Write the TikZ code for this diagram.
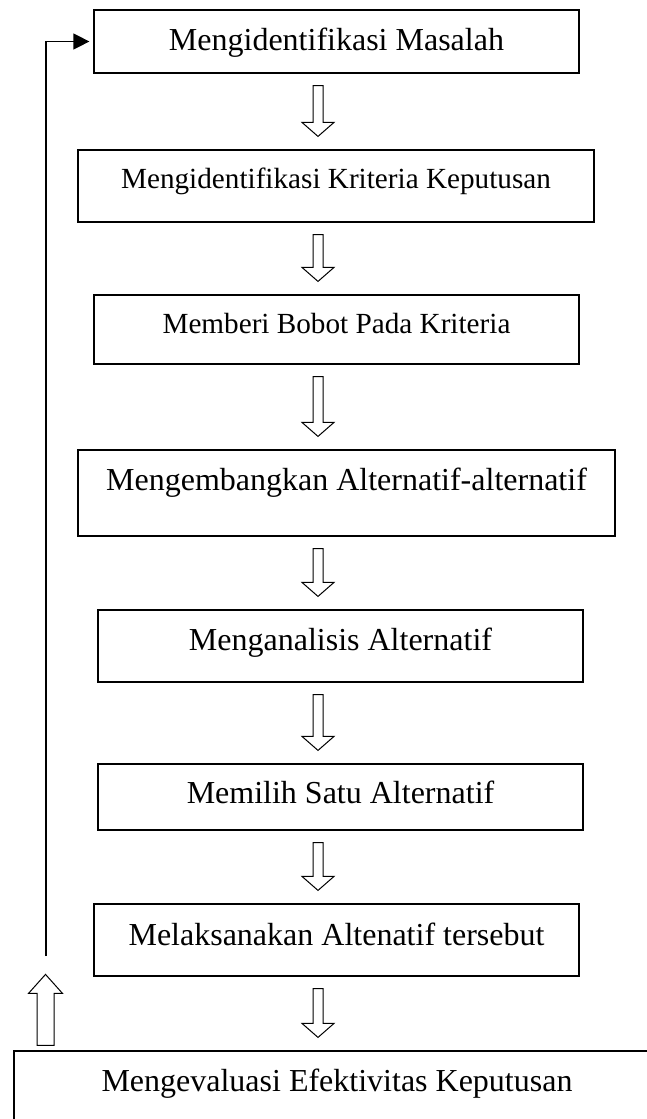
\documentclass[tikz,border=0pt]{standalone}
\usepackage{fontspec}
\setmainfont{Liberation Serif}
\usetikzlibrary{calc,arrows.meta}

\tikzset{
  stepbox/.style={draw, line width=0.6pt, inner sep=0pt, text height=11pt, font=\fontsize{16}{19}\selectfont},
  smallbox/.style={stepbox, text height=10pt, font=\fontsize{14.6}{17}\selectfont},
  hollow/.style={draw, line width=0.5pt, fill=white}
}

% hollow block arrow between two steps
\newcommand{\flowarrow}[2]{%
  \draw[hollow] let \p1=(318,0 |- #1.south), \p2=(318,0 |- #2.north) in
    (\x1-2.5pt,\y1-6pt) -- (\x1+2.5pt,\y1-6pt) -- (\x1+2.5pt,\y2+13.5pt) -- (\x1+8pt,\y2+13.5pt)
    -- (\x1,\y2+6.5pt) -- (\x1-8pt,\y2+13.5pt) -- (\x1-2.5pt,\y2+13.5pt) -- cycle;}

\begin{document}
\begin{tikzpicture}[x=0.5pt, y=-0.5pt]
\useasboundingbox (0,0) rectangle (647,1119);

% Steps
\node[stepbox, minimum width=242.5pt, minimum height=31.5pt, text depth=2.4pt] (masalah) at (336.5,41.5) {Mengidentifikasi Masalah\hspace{24.5pt}};
\node[smallbox, minimum width=258pt, minimum height=36pt, text depth=8pt] (kriteria) at (336,186) {Mengidentifikasi Kriteria Keputusan};
\node[smallbox, minimum width=242.5pt, minimum height=34.5pt, text depth=6.5pt] (bobot) at (336.5,329.5) {Memberi Bobot Pada Kriteria\hspace{25pt}};
\node[stepbox, minimum width=268.5pt, minimum height=43pt, text depth=13.1pt] (kembang) at (346.5,493) {Mengembangkan Alternatif-alternatif};
\node[stepbox, minimum width=242.5pt, minimum height=36pt, text depth=6.9pt] (analisis) at (340.5,646) {Menganalisis Alternatif};
\node[stepbox, minimum width=242.5pt, minimum height=33pt, text depth=4.1pt] (pilih) at (340.5,797) {Memilih Satu Alternatif};
\node[stepbox, minimum width=242.5pt, minimum height=36pt, text depth=5.9pt] (laksana) at (336.5,940) {Melaksanakan Altenatif tersebut};
\node[stepbox, minimum width=323pt, minimum height=37.5pt, text depth=8.1pt] (evaluasi) at (337,1088.5) {Mengevaluasi Efektivitas Keputusan};

% Arrows down
\foreach \a/\b in {masalah/kriteria, kriteria/bobot, bobot/kembang, kembang/analisis, analisis/pilih, pilih/laksana, laksana/evaluasi}
  \flowarrow{\a}{\b};

% Feedback loop
\coordinate (loopend) at (46,956);
\draw[line width=0.6pt, -{Triangle[length=8pt,width=8pt]}, shorten >=2pt] (loopend) |- (masalah.west);
\draw[hollow] let \p1=(45.5,0 |- evaluasi.north) in
  (\x1-4.25pt,\y1+2.5pt) -- (\x1+4.25pt,\y1+2.5pt) -- (\x1+4.25pt,\y1+28.5pt) -- (\x1+8.5pt,\y1+28.5pt)
  -- (\x1,\y1+38pt) -- (\x1-8.5pt,\y1+28.5pt) -- (\x1-4.25pt,\y1+28.5pt) -- cycle;
\end{tikzpicture}
\end{document}
